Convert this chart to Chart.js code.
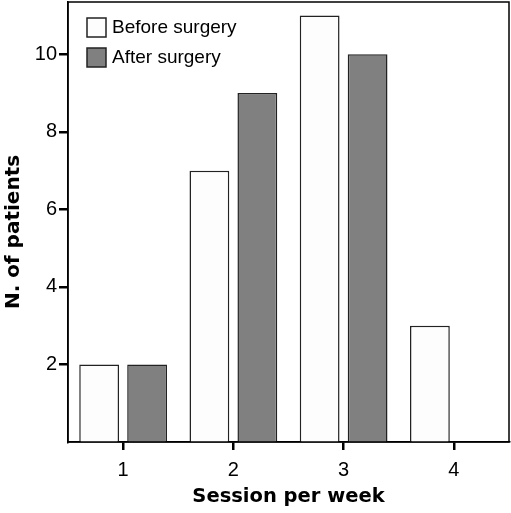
<!DOCTYPE html>
<html>
<head>
<meta charset="utf-8">
<script src="https://cdn.jsdelivr.net/npm/chart.js@4"></script>
<style>
  html, body { margin: 0; padding: 0; background: #fff; }
  #wrap { width: 511px; height: 513px; }
</style>
</head>
<body>
<div id="wrap"><canvas id="myChart" width="511" height="513"></canvas></div>
<script>
const categories = ["1", "2", "3", "4"];
const beforeSurgery = [2, 7, 11, 3];
const afterSurgery = [2, 9, 10, 0];
const yTicks = [2, 4, 6, 8, 10];
const yTitle = "N. of patients";

const legendFont = "Arial, 'Liberation Sans', sans-serif";
const tickFont = "'Liberation Sans Narrow', 'Arial Narrow', Arial, sans-serif";
const titleFont = "'DejaVu Sans', Verdana, sans-serif";

// frame around the plot, legend inside the plot area, y title
const framePlugin = {
    id: "frame",
    afterDatasetsDraw(chart) {
        const { ctx, chartArea: a } = chart;
        ctx.save();
        ctx.strokeStyle = "#000";
        ctx.lineWidth = 1.5;
        ctx.strokeRect(a.left, a.top, a.right - a.left, a.bottom - a.top);

        // legend
        ctx.font = "19px " + legendFont;
        ctx.textBaseline = "middle";
        chart.data.datasets.forEach((ds, i) => {
            const x = a.left + 19, y = a.top + 16 + i * 30;
            ctx.fillStyle = ds.backgroundColor;
            ctx.fillRect(x, y, 19, 19);
            ctx.strokeStyle = "#222";
            ctx.lineWidth = 1.5;
            ctx.strokeRect(x, y, 19, 19);
            ctx.fillStyle = "#000";
            ctx.fillText(ds.label, x + 25, y + 10);
        });

        // y title, sits a bit lower than the plot centre in the original
        ctx.translate(14, 232);
        ctx.rotate(-Math.PI / 2);
        ctx.font = "bold 20px " + titleFont;
        ctx.textAlign = "center";
        ctx.fillText(yTitle, 0, 0);
        ctx.restore();
    }
};

const ctx = document.getElementById("myChart");
new Chart(ctx, {
    type: "bar",
    data: {
        labels: categories,
        datasets: [
            {
                label: "Before surgery",
                data: beforeSurgery,
                backgroundColor: "#fdfdfd",
                borderColor: "#222",
                borderWidth: 1.5,
            },
            {
                label: "After surgery",
                data: afterSurgery,
                backgroundColor: "#808080",
                borderColor: "#222",
                borderWidth: 1.5,
            }
        ]
    },
    options: {
        responsive: false,
        animation: false,
        layout: { padding: { top: 2, right: 2, left: 0, bottom: 0 } },
        categoryPercentage: 0.87,
        barPercentage: 0.83,
        plugins: {
            legend: { display: false },
            tooltip: { enabled: false }
        },
        scales: {
            x: {
                grid: {
                    display: true,
                    offset: false,
                    drawOnChartArea: false,
                    tickLength: 8,
                    color: "#000",
                    lineWidth: 2.5
                },
                border: { display: true, color: "#000", width: 1.5 },
                ticks: {
                    color: "#000",
                    padding: 8,
                    font: { family: tickFont, size: 20 }
                },
                title: {
                    display: true,
                    text: "Session per week",
                    color: "#000",
                    padding: { top: 8, bottom: 4 },
                    font: { family: titleFont, size: 19.5, weight: "bold" }
                },
                afterFit(scale) {
                    scale.height = 71;
                    scale.paddingLeft = 0;
                    scale.paddingRight = 0;
                }
            },
            y: {
                min: 0,
                max: 11.35,
                afterBuildTicks(scale) {
                    scale.ticks = yTicks.map(v => ({ value: v }));
                },
                grid: {
                    display: true,
                    drawOnChartArea: false,
                    tickLength: 9,
                    color: "#000",
                    lineWidth: 2.5
                },
                border: { display: true, color: "#000", width: 1.5 },
                ticks: {
                    color: "#000",
                    padding: 2,
                    font: { family: tickFont, size: 20 }
                },
                afterFit(scale) {
                    scale.width = 68;
                    scale.paddingTop = 0;
                    scale.paddingBottom = 0;
                }
            }
        }
    },
    plugins: [framePlugin]
});
</script>
</body>
</html>
